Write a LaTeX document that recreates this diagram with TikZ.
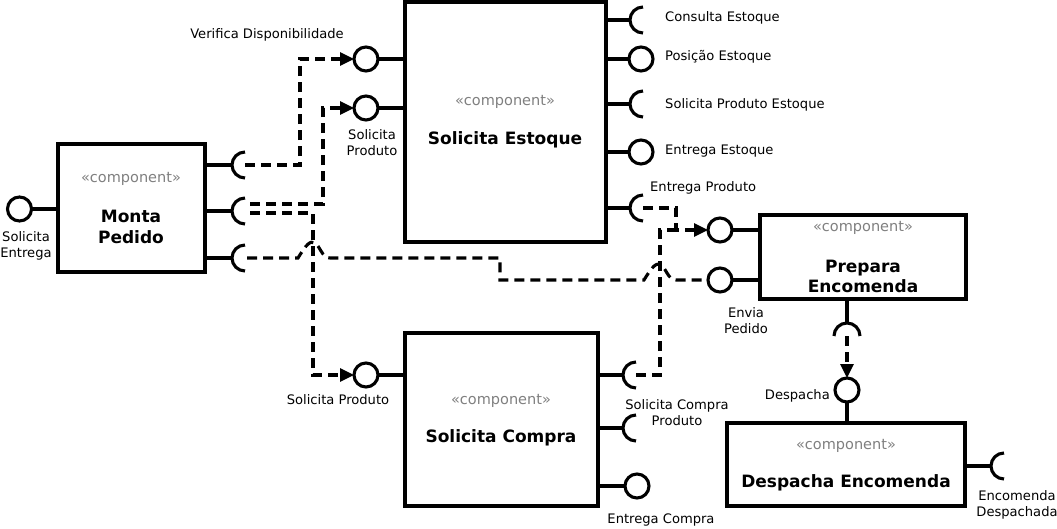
\documentclass[tikz,border=0pt]{standalone}
\usepackage{fontspec}
\setmainfont{DejaVu Sans}
\usetikzlibrary{arrows.meta}
\begin{document}
\begin{tikzpicture}[x=1pt,y=1pt,
  lw/.style={line width=3.1pt},
  comp/.style={draw, lw, rectangle, inner sep=0pt, outer sep=0pt},
  lolli/.style={draw, lw, circle, minimum size=24pt, inner sep=0pt, outer sep=0pt},
  dep/.style={lw, dash pattern=on 10pt off 6pt},
  arr/.style={-{Triangle[length=14pt,width=13pt]}},
  lbl/.style={font=\fontsize{13.1}{16}\selectfont, inner sep=0pt, align=center},
  stereo/.style={font=\fontsize{14.5}{17}\selectfont, text=black!50, inner sep=0pt},
  ttl/.style={font=\fontsize{17}{20.5}\selectfont\bfseries, inner sep=0pt, align=center},
]
\useasboundingbox (0,0) rectangle (1057,-528);
\fill[white] (0,0) rectangle (1057,-528);

% ---------- component boxes ----------
\node[comp, minimum width=147pt, minimum height=128pt] (mp) at (131.5,-208) {};
\node[comp, minimum width=201pt, minimum height=240pt] (se) at (505.5,-122) {};
\node[comp, minimum width=193pt, minimum height=173pt] (sc) at (501.5,-419.5) {};
\node[comp, minimum width=206pt, minimum height=84pt] (pe) at (863,-257) {};
\node[comp, minimum width=238pt, minimum height=83pt] (de) at (846,-464.5) {};

\node[stereo] (mpst) at (131,-179) {«component»};
\node[ttl] (mpt) at (131,-227) {Monta\\Pedido};
\node[stereo] (sest) at (505,-102) {«component»};
\node[ttl] (set) at (505,-140) {Solicita Estoque};
\node[stereo] (scst) at (501,-401) {«component»};
\node[ttl] (sct) at (501,-438) {Solicita Compra};
\node[stereo] (pest) at (863,-228) {«component»};
\node[ttl] (pet) at (863,-276.5) {Prepara\\Encomenda};
\node[stereo] (dest) at (846,-446) {«component»};
\node[ttl] (det) at (846,-483) {Despacha Encomenda};

% ---------- provided interfaces (lollipops) ----------
\node[lolli] (sent) at (19.5,-209) {};
\node[lolli] (vd) at (366,-59) {};
\node[lolli] (spe) at (366,-108) {};
\node[lolli] (pos) at (641,-59) {};
\node[lolli] (ees) at (641,-152) {};
\node[lolli] (ep1) at (720,-230) {};
\node[lolli] (env) at (720,-280) {};
\node[lolli] (desp) at (847,-390) {};
\node[lolli] (spc) at (366,-375) {};
\node[lolli] (ecp) at (637,-486) {};

\draw[lw] (sent.east) -- (sent.east -| mp.west);
\draw[lw] (vd.east) -- (vd.east -| se.west);
\draw[lw] (spe.east) -- (spe.east -| se.west);
\draw[lw] (pos.west) -- (pos.west -| se.east);
\draw[lw] (ees.west) -- (ees.west -| se.east);
\draw[lw] (ep1.east) -- (ep1.east -| pe.west);
\draw[lw] (env.east) -- (env.east -| pe.west);
\draw[lw] (desp.south) -- (desp.south |- de.north);
\draw[lw] (spc.east) -- (spc.east -| sc.west);
\draw[lw] (ecp.west) -- (ecp.west -| sc.east);

% ---------- required interfaces (sockets) ----------
\coordinate (m1) at (245,-165);
\coordinate (m2) at (245,-211);
\coordinate (m3) at (245,-258);
\coordinate (ce) at (643,-20);
\coordinate (spes) at (643,-104);
\coordinate (eprod) at (643,-208);
\coordinate (scp) at (636,-375);
\coordinate (sc2) at (636,-428);
\coordinate (pbot) at (847,-336);
\coordinate (edes) at (1004,-466);

\foreach \s/\b in {m1/mp, m2/mp, m3/mp, ce/se, spes/se, eprod/se, scp/sc, sc2/sc, edes/de} {
  \draw[lw] (\s -| \b.east) -- ([xshift=-13pt]\s);
  \draw[lw] ([yshift=13pt]\s) arc[start angle=90, end angle=270, radius=13pt];
}
\draw[lw] (pe.south -| pbot) -- ([yshift=13pt]pbot);
\draw[lw] ([xshift=-13pt]pbot) arc[start angle=180, end angle=0, radius=13pt];

% ---------- dependencies ----------
\draw[dep, arr] (m1) -| (300,-59) -- (vd.west);
\draw[dep, arr] (250,-204) -| (323,-108) -- (spe.west);
\draw[dep, arr] (250,-213) -| (313,-375) -- (spc.west);
\draw[dep] (247,-258) -- (298,-258) .. controls (306,-245) and (310,-240) .. (315,-243)
   .. controls (320,-246) and (322,-258) .. (330,-258)
   -- (500,-258) -- (500,-280) -- (644,-280) .. controls (652,-267) and (656,-262) .. (661,-265)
   .. controls (666,-268) and (668,-280) .. (676,-280)
   -- (env.west);
\draw[dep, arr] (eprod) -- (676,-208) -- (676,-230) -- (ep1.west);
\draw[dep] (scp) -- (660,-375) -- (660,-230) -- (676,-230);
\draw[dep, arr] (pbot) -- (desp.north);

% ---------- labels ----------
\node[lbl] (l1) at (267,-35) {Verifica Disponibilidade};
\node[lbl] (l2) at (372,-143) {Solicita\\Produto};
\node[lbl] (l3) at (26,-246) {Solicita\\Entrega};
\node[lbl, anchor=west] (l4) at (665,-18) {Consulta Estoque};
\node[lbl, anchor=west] (l5) at (665,-57) {Posição Estoque};
\node[lbl, anchor=west] (l6) at (665,-105) {Solicita Produto Estoque};
\node[lbl, anchor=west] (l7) at (665,-151) {Entrega Estoque};
\node[lbl, anchor=west] (l8) at (650,-188) {Entrega Produto};
\node[lbl] (l9) at (746,-321) {Envia\\Pedido};
\node[lbl, anchor=east] (l10) at (830,-396) {Despacha};
\node[lbl] (l11) at (1017,-505) {Encomenda\\Despachada};
\node[lbl] (l12) at (338,-400) {Solicita Produto};
\node[lbl] (l13) at (677,-413) {Solicita Compra\\Produto};
\node[lbl] (l14) at (661,-520) {Entrega Compra};
\end{tikzpicture}
\end{document}
